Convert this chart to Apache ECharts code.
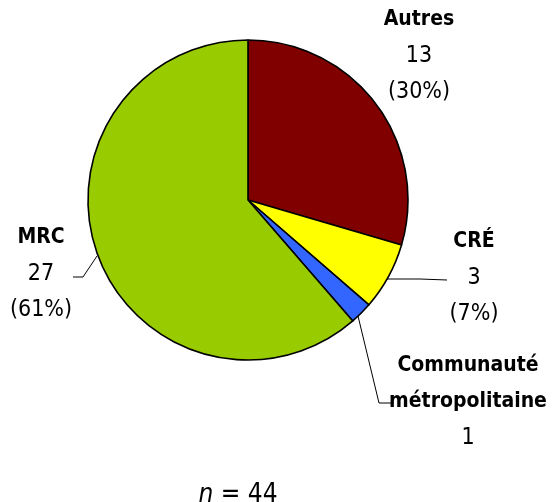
<!DOCTYPE html>
<html>
<head>
<meta charset="utf-8">
<script src="https://cdn.jsdelivr.net/npm/echarts@6/dist/echarts.min.js"></script>
<style>
  html, body { margin: 0; padding: 0; background: #fff; }
  #chart { width: 552px; height: 502px; }
</style>
</head>
<body>
<div id="chart"></div>
<script>
  // donnees
  const categories = ['Autres', 'CRÉ', 'Communauté\nmétropolitaine', 'MRC'];
  const values = [13, 3, 1, 27];
  const percents = ['(30%)', '(7%)', '', '(61%)'];
  const colors = ['#800000', '#ffff00', '#3366ff', '#99cc00'];
  const total = 44;

  const FONT = '"Liberation Sans Narrow", "DejaVu Sans Condensed", "Liberation Sans", sans-serif';

  // position du centre des etiquettes + lignes de rappel
  const labelPos = [[419, 56], [474, 278], [468, 402], [41, 274]];
  const linePts = [
    null,
    [[387, 279], [420, 279], [447, 280]],
    [[358, 316], [379, 403], [393, 403]],
    [[97, 256], [83, 277], [73, 277]]
  ];

  const chart = echarts.init(document.getElementById('chart'), null, { renderer: 'canvas' });

  const seriesData = categories.map((name, i) => ({
    name: name,
    value: values[i],
    itemStyle: { color: colors[i] },
    labelLine: { show: !!linePts[i] }
  }));

  const option = {
    animation: false,
    title: {
      text: '{i|n} = ' + total,
      left: 233,
      top: 477,
      textAlign: 'center',
      textStyle: {
        fontFamily: FONT,
        fontSize: 26,
        fontWeight: 'normal',
        color: '#000',
        rich: {
          i: { fontFamily: FONT, fontSize: 26, fontStyle: 'italic', color: '#000' }
        }
      }
    },
    series: [
      {
        type: 'pie',
        center: [248, 200],
        radius: 160,
        startAngle: 90,
        clockwise: true,
        data: seriesData,
        itemStyle: { borderColor: '#000', borderWidth: 1.6 },
        label: {
          show: true,
          position: 'outside',
          align: 'center',
          overflow: 'none',
          formatter: (p) => {
            const i = p.dataIndex;
            let s = p.name.split('\n').map((t) => '{b|' + t + '}').join('\n');
            s += '\n{v|' + values[i] + '}';
            if (percents[i]) s += '\n{v|' + percents[i] + '}';
            return s;
          },
          rich: {
            b: { fontFamily: FONT, fontSize: 21, fontWeight: 'bold', color: '#000', lineHeight: 36, align: 'center' },
            v: { fontFamily: FONT, fontSize: 23, color: '#000', lineHeight: 36, align: 'center' }
          }
        },
        labelLine: {
          show: true,
          lineStyle: { color: '#000', width: 1 }
        },
        labelLayout: (params) => {
          const i = params.dataIndex;
          const out = {
            x: labelPos[i][0],
            y: labelPos[i][1],
            align: 'center',
            verticalAlign: 'middle'
          };
          if (linePts[i]) out.labelLinePoints = linePts[i];
          return out;
        }
      }
    ]
  };

  chart.setOption(option);
</script>
</body>
</html>
